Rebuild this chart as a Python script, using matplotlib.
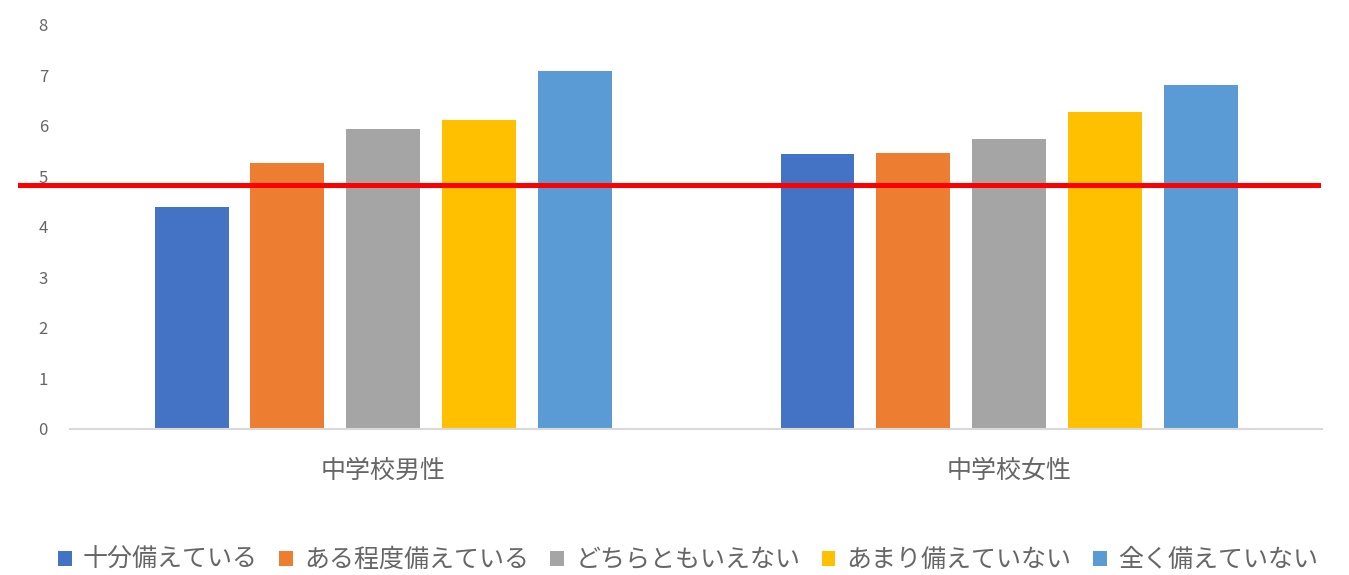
import matplotlib.pyplot as plt
import numpy as np

plt.rcParams['font.family'] = ['Noto Sans CJK JP', 'DejaVu Sans']

groups = ['中学校男性', '中学校女性']
series = ['十分備えている', 'ある程度備えている', 'どちらともいえない', 'あまり備えていない', '全く備えていない']
values = [
    [4.39, 5.45],
    [5.26, 5.47],
    [5.93, 5.73],
    [6.11, 6.28],
    [7.09, 6.80],
]
colors = ['#4472C4', '#ED7D31', '#A5A5A5', '#FFC000', '#5B9BD5']
ref_line = 4.82
yticks = [0, 1, 2, 3, 4, 5, 6, 7, 8]

fig = plt.figure(figsize=(13.49, 5.75), dpi=100)
ax = fig.add_axes([0.052, 0.254, 0.928, 0.703])

x = np.arange(len(groups))
step = 0.153
width = 0.118
for i, (name, vals) in enumerate(zip(series, values)):
    ax.bar(x + (i - 2) * step, vals, width, color=colors[i], label=name, zorder=2)

# red reference line across the whole chart
ax.axhline(ref_line, xmin=-0.04, xmax=0.997, color='#FF0000', lw=3.6, clip_on=False, zorder=5)

ax.set_xlim(-0.5, 1.5)
ax.set_ylim(0, 8)
ax.set_yticks(yticks)
ax.set_xticks(x)
ax.set_xticklabels(groups, fontsize=18, color='#666666')
ax.tick_params(axis='x', length=0, pad=21)
ax.tick_params(axis='y', length=0, pad=16, labelsize=12, labelcolor='#666666')

for s in ['top', 'right', 'left']:
    ax.spines[s].set_visible(False)
ax.spines['bottom'].set_color('#D9D9D9')
ax.spines['bottom'].set_linewidth(1.5)

fig.legend(loc='center', bbox_to_anchor=(0.51, 0.026), ncol=5, frameon=False,
           fontsize=18, labelcolor='#666666', handlelength=0.55, handleheight=0.55,
           handletextpad=0.45, columnspacing=0.85)

plt.savefig('out.png', dpi=100)
